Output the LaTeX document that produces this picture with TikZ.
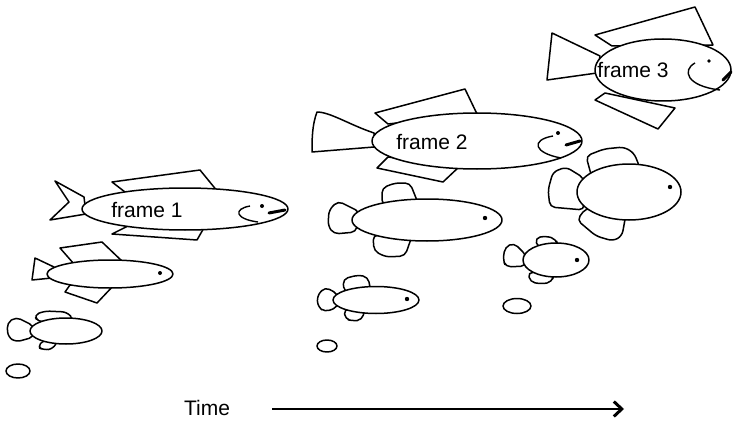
\documentclass[tikz,border=0pt]{standalone}
\usepackage{fontspec}
\setmainfont{Liberation Sans}
\usetikzlibrary{arrows.meta}
\begin{document}
\begin{tikzpicture}[x=1pt,y=-1pt,
  fishline/.style={draw=black,line width=1.5pt,fill=white,line join=round},
  rfin/.style={fishline,rounded corners=5pt},
  gill/.style={draw=black,line width=1.4pt},
  mouth/.style={draw=black,line width=3pt,line cap=round},
  eye/.style={fill=black},
  label/.style={font=\fontsize{21}{25}\selectfont,inner sep=0pt}]
\useasboundingbox (0,0) rectangle (735,422);

% ---- frame 1 fish (slender, left)
\path[fishline] (84,197) -- (55,181) -- (69,202) -- (50,220) -- (86,214) -- cycle;
\path[fishline] (125,192) -- (112,182) -- (200,170) -- (218,192) -- cycle;
\path[fishline] (128,226) -- (112,234) -- (197,240) -- (205,226) -- cycle;
\path[fishline] (185,209) ellipse [x radius=103, y radius=21];
\draw[gill] (250,206) .. controls (233,209) and (235,219) .. (258,222);
\fill[eye] (262,206) circle (2);
\draw[mouth] (269,213) -- (285,210);
\node[label] (f1) at (147,210) {frame 1};

% ---- frame 2 fish (slender, middle)
\path[fishline] (374,133) .. controls (350,125) and (330,112) .. (317,112)
  .. controls (312,125) and (312,140) .. (312,152) -- (374,147) -- cycle;
\path[fishline] (388,124) -- (375,113) -- (465,89) -- (477,114) -- cycle;
\path[fishline] (388,157) -- (377,168) -- (443,182) -- (460,166) -- cycle;
\path[fishline] (477,141) ellipse [x radius=105, y radius=28];
\draw[gill] (553,136) .. controls (530,140) and (534,153) .. (561,158);
\fill[eye] (558,133) circle (2);
\draw[mouth] (566,145) -- (580,141);
\node[label] (f2) at (432,142) {frame 2};

% ---- frame 3 fish (deep body, top right)
\path[fishline] (600,56) -- (552,33) -- (547,80) -- (597,73) -- cycle;
\path[fishline] (612,46) -- (595,35) -- (695,7) -- (713,45) -- cycle;
\path[fishline] (605,93) -- (595,100) -- (658,129) -- (675,108) -- cycle;
\path[fishline] (663,70) ellipse [x radius=68, y radius=31];
\draw[gill] (695,63) .. controls (682,70) and (686,86) .. (720,90);
\fill[eye] (709,61) circle (1.8);
\draw[mouth] (723,80) -- (731,72);
\node[label] (f3) at (633,70) {frame 3};

% ---- slender small fish, left
\path[fishline] (54,267) -- (35,258) -- (32,280) -- (52,278) -- cycle;
\path[fishline] (74,264) -- (60,248) -- (102,242) -- (124,263) -- cycle;
\path[fishline] (70,285) -- (65,292) -- (97,303) -- (114,285) -- cycle;
\path[fishline] (110,274) ellipse [x radius=63, y radius=14];
\fill[eye] (160,273) circle (2);

% ---- round small fish, bottom left
\path[rfin] (34,326) -- (16,317) -- (7,323) -- (8,337) -- (16,342) -- (34,337) -- cycle;
\path[rfin] (38,322) -- (34,315) -- (45,311) -- (67,312) -- (74,320) -- cycle;
\path[rfin] (44,340) -- (37,347) -- (44,350) -- (53,349) -- (58,340) -- cycle;
\path[fishline] (66,331) ellipse [x radius=36, y radius=13];
\path[fishline] (18,371) ellipse [x radius=12, y radius=7];

% ---- round fish, middle upper
\path[rfin] (360,212) -- (338,201) -- (329,210) -- (328,226) -- (334,234) -- (356,232) -- cycle;
\path[rfin] (382,205) -- (382,188) -- (395,183) -- (410,183) -- (418,203) -- cycle;
\path[rfin] (373,235) -- (374,251) -- (386,257) -- (405,256) -- (412,236) -- cycle;
\path[fishline] (427,220) ellipse [x radius=75, y radius=21];
\fill[eye] (485,218) circle (2.2);

% ---- round fish, middle lower
\path[rfin] (338,294) -- (325,287) -- (317,296) -- (318,307) -- (325,312) -- (338,307) -- cycle;
\path[rfin] (344,292) -- (343,279) -- (358,275) -- (368,277) -- (371,292) -- cycle;
\path[rfin] (344,309) -- (345,319) -- (353,321) -- (362,320) -- (365,309) -- cycle;
\path[fishline] (376,300) ellipse [x radius=43, y radius=13.5];
\fill[eye] (407,299) circle (2.2);
\path[fishline] (327,346) ellipse [x radius=10, y radius=6];

% ---- large round fish, right
\path[rfin] (584,178) -- (566,167) -- (553,172) -- (548,190) -- (550,207) -- (584,210) -- cycle;
\path[rfin] (592,178) -- (586,156) -- (604,149) -- (624,147) -- (634,153) -- (640,168) -- cycle;
\path[rfin] (586,208) -- (577,220) -- (596,236) -- (613,241) -- (622,236) -- (626,214) -- cycle;
\path[fishline] (629,192) ellipse [x radius=52, y radius=28];
\fill[eye] (670,187) circle (2.2);

% ---- small round fish, right
\path[rfin] (526,255) -- (514,243) -- (505,247) -- (503,260) -- (506,267) -- (526,266) -- cycle;
\path[rfin] (538,248) -- (535,238) -- (546,236) -- (556,239) -- (558,246) -- cycle;
\path[rfin] (528,272) -- (530,282) -- (542,284) -- (552,282) -- (554,274) -- cycle;
\path[fishline] (556,260) ellipse [x radius=33, y radius=17];
\fill[eye] (577,260) circle (2.2);
\path[fishline] (517,306) ellipse [x radius=14, y radius=7.5];

% ---- time axis
\node[label] (time) at (207,408) {Time};
\coordinate (t0) at (272,409);
\coordinate (t1) at (624,409);
\draw[line width=1.3pt,-{Straight Barb[length=8pt,width=15pt,line width=3pt]}] (t0) -- (t1);
\end{tikzpicture}
\end{document}
